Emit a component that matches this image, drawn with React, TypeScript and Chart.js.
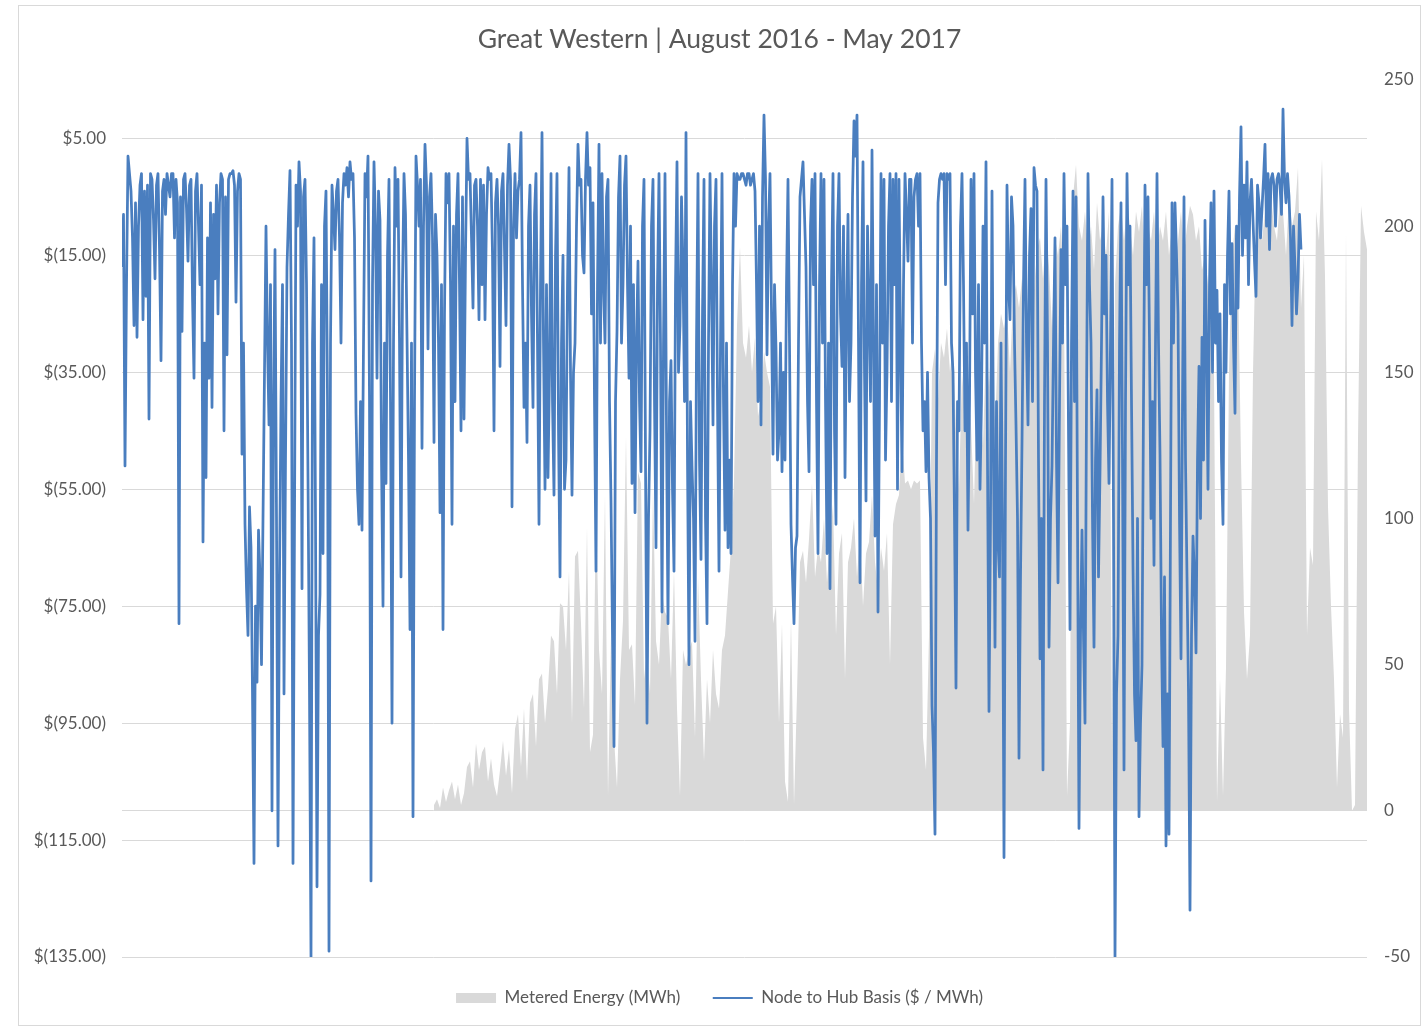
import { useEffect, useRef } from 'react';
import { Chart, registerables } from 'chart.js';

Chart.register(...registerables);

const TITLE = 'Great Western | August 2016 - May 2017';
const ENERGY_LABEL = 'Metered Energy (MWh)';
const BASIS_LABEL = 'Node to Hub Basis ($ / MWh)';

const LEFT_TICKS = [-135, -115, -95, -75, -55, -35, -15, 5];
const RIGHT_TICKS = [-50, 0, 50, 100, 150, 200, 250];
const LEFT_MIN = -135;
const LEFT_MAX = 15;
const RIGHT_MIN = -50;
const RIGHT_MAX = 250;

// hidden x axis: period position in sample units
const X_MAX = 415;
const BASIS_STEP = 0.5;
const ENERGY_START = 104;
const ENERGY_STEP = 1;

// Node to Hub Basis ($/MWh), left axis
const basis = [
  -17, -8, -51, -20, 2, -1, -4, -12, -27, -6, -29, -10, -3, -1, -26, -4, -22, -3, -43, -1,
  -2, -9, -19, -3, -1, -14, -33, -4, -2, -8, -1, -3, -5, -1, -1, -12, -2, -6, -78, -5,
  -28, -2, -1, -7, -16, -3, -2, -22, -36, -4, -1, -10, -20, -3, -64, -30, -53, -12, -36, -6,
  -41, -8, -19, -3, -25, -6, -1, -2, -45, -5, -32, -2, -1, -1, -0.5, -3, -23, -4, -1, -2,
  -49, -30, -61, -72, -80, -58, -65, -90, -119, -75, -88, -62, -70, -85, -60, -35, -10, -30, -44, -20,
  -110, -40, -14, -60, -116, -70, -40, -20, -90, -50, -17, -8, -0.5, -30, -119, -60, -3, -10, 1, -4,
  -72, -5, -2, -20, -53, -90, -135, -30, -12, -60, -123, -80, -73, -20, -66, -10, -4, -40, -134, -30,
  -3, -8, -14, -4, -2, -12, -30, -6, -1, -3, 0, -5, 1, -2, -1, -12, -42, -55, -61, -40,
  -62, -30, -1, -5, 2, -40, -122, -20, 1, -10, -36, -4, -9, -50, -75, -30, -54, -15, -2, -40,
  -95, -30, 0, -10, -2, -30, -70, -20, -1, -8, -29, -50, -79, -30, -111, -40, 2, -3, -10, -2,
  -48, -10, 4, -3, -31, -5, -1, -12, -47, -8, -15, -30, -59, -20, -79, -25, -1, -6, -1, -20,
  -61, -10, -40, -8, -1, -20, -45, -5, -43, -15, 5, -2, -1, -12, -24, -3, -2, -10, -26, -2,
  -20, -3, -26, -8, 0, -2, -1, -15, -45, -6, -2, -10, -34, -4, -1, -14, -27, -3, 4, -2,
  -58, -10, -1, -12, -4, -2, 6, -20, -41, -30, -47, -10, -3, -25, -41, -8, -1, -30, -61, -20,
  6, -30, -55, -20, -53, -35, -1, -40, -56, -15, -1, -45, -70, -30, -15, -55, -50, -20, 0, -35,
  -56, -35, -30, -10, 4, -3, -2, -15, -18, -2, 6, -3, 0, -25, -6, -40, -69, -20, 4, -30,
  -1, -20, -30, -5, -2, -40, -57, -80, -99, -40, -28, -5, 2, -30, -20, -3, 2, -20, -36, -10,
  -54, -20, -59, -30, -16, -40, -52, -10, -2, -50, -95, -60, -45, -10, -2, -40, -65, -20, -1, -30,
  -76, -30, -1, -45, -78, -40, -33, -55, -69, -20, 1, -35, -27, -5, -17, -40, 6, -50, -85, -40,
  -51, -60, -81, -30, -1, -50, -67, -25, -2, -60, -78, -30, -1, -20, -44, -10, -2, -40, -69, -30,
  -1, -40, -62, -30, -65, -50, -66, -20, -1, -10, -1, -2, -2, -1, -1, -2, -3, -1, -1, -3,
  -2, -1, -4, -20, -40, -10, -44, -5, 9, -2, -32, -10, -1, -25, -49, -20, -31, -50, -45, -30,
  -52, -35, -50, -20, -2, -30, -61, -70, -78, -65, -63, -30, -5, -2, 1, -8, -17, -40, -52, -10,
  -2, -20, -1, -40, -66, -20, -1, -30, -2, -40, -66, -30, -72, -20, -1, -45, -61, -10, -1, -25,
  -34, -10, -53, -25, -8, -40, -30, -5, 8, 2, 9, -30, -71, -20, 1, -35, -57, -10, -24, -40,
  3, -30, -63, -20, -76, -40, -1, -30, -2, -50, -35, -10, -1, -40, -2, -20, -1, -55, -2, -30,
  -52, -20, -1, -8, -16, -2, -2, -30, -5, -2, -1, -10, -1, -30, -45, -40, -52, -35, -53, -60,
  -92, -100, -114, -50, -6, -2, -1, -2, -1, -20, -1, -2, -1, -30, -35, -60, -89, -40, -45, -10,
  -1, -20, -45, -30, -62, -40, -2, -25, -1, -35, -50, -20, -55, -40, -10, -30, 1, -50, -93, -60,
  -4, -50, -82, -40, -64, -70, -30, -60, -118, -50, -3, -20, -26, -5, -10, -30, -44, -60, -101, -70,
  -47, -20, -2, -30, -44, -15, -7, -40, 0, -3, -4, -50, -84, -60, -103, -40, -2, -30, -82, -60,
  -51, -30, -12, -50, -71, -40, -14, -30, -1, -20, -10, -45, -79, -30, -4, -40, -5, -60, -113, -80,
  -62, -80, -95, -40, -1, -20, -30, -60, -82, -50, -38, -70, -52, -30, -5, -25, -15, -40, -54, -30,
  -2, -60, -135, -90, -80, -30, -6, -50, -103, -40, -1, -20, -10, -40, -68, -90, -98, -60, -111, -95,
  -85, -40, -3, -20, -5, -30, -60, -40, -68, -30, -1, -30, -49, -80, -99, -70, -116, -90, -114, -60,
  -6, -30, -6, -15, -25, -60, -84, -40, -5, -50, -70, -90, -127, -80, -63, -70, -83, -50, -34, -60,
  -29, -50, -9, -30, -55, -20, -6, -35, -4, -30, -21, -40, -25, -50, -61, -20, -35, -15, -4, -25,
  -13, -30, -42, -10, -24, -5, 7, -15, -3, -12, 1, -20, -6, -2, -9, -16, -22, -3, -6, -12,
  -7, -2, 4, -10, -1, -14, -2, -1, -3, -10, -2, -1, -3, -8, 10, -2, -6, -1, -5, -12,
  -27, -10, -17, -25, -19, -8, -14,
];

// Metered Energy (MWh), right axis, from sample ENERGY_START
const metered = [
  2, 4, 1, 8, 3, 7, 10, 4, 9, 2,
  6, 15, 17, 8, 23, 14, 20, 22, 10, 18,
  9, 5, 14, 24, 12, 21, 6, 28, 33, 15,
  35, 10, 37, 40, 22, 45, 47, 30, 42, 60,
  58, 40, 71, 70, 55, 82, 30, 87, 89, 64,
  35, 97, 20, 26, 105, 55, 40, 108, 5, 60,
  25, 8, 45, 65, 128, 55, 57, 36, 116, 112,
  45, 55, 40, 110, 58, 50, 75, 68, 66, 45,
  82, 35, 5, 55, 50, 55, 58, 25, 80, 45,
  17, 45, 30, 55, 40, 35, 55, 60, 75, 90,
  113, 166, 193, 160, 155, 166, 150, 162, 135, 140,
  157, 150, 145, 64, 70, 30, 64, 10, 3, 66,
  2, 40, 85, 89, 78, 93, 112, 80, 90, 85,
  100, 78, 92, 105, 60, 88, 95, 45, 85, 90,
  100, 80, 95, 70, 88, 92, 108, 85, 75, 90,
  82, 95, 50, 98, 105, 108, 128, 112, 113, 110,
  113, 112, 113, 25, 14, 60, 150, 158, 140, 160,
  155, 165, 150, 160, 130, 110, 150, 135, 148, 132,
  105, 150, 138, 125, 160, 145, 165, 130, 160, 170,
  165, 172, 150, 175, 180, 172, 182, 160, 175, 188,
  178, 192, 196, 182, 198, 186, 165, 196, 190, 200,
  176, 5, 30, 210, 221, 200, 195, 205, 190, 200,
  185, 208, 195, 200, 190, 205, 20, 180, 200, 207,
  195, 208, 200, 190, 205, 198, 207, 185, 200, 195,
  205, 190, 200, 195, 205, 190, 200, 185, 195, 205,
  190, 200, 207, 204, 195, 200, 185, 190, 180, 170,
  150, 3, 45, 5, 49, 150, 190, 200, 185, 120,
  68, 45, 60, 150, 200, 207, 195, 205, 200, 210,
  200, 195, 210, 205, 190, 210, 200, 205, 220, 172,
  190, 60, 90, 84, 205, 195, 223, 183, 104, 70,
  45, 8, 33, 25, 198, 35, 0, 2, 127, 207,
  198, 192,
];

const BLUE = '#4A7EBF';
const GRAY = '#D9D9D9';
const TEXT = '#595959';
const FONT = 'Lato';

const money = (v: number) =>
  v >= 0 ? `$${v.toFixed(2)}` : `$(${Math.abs(v).toFixed(2)})`;

export default function App() {
  const ref = useRef<HTMLCanvasElement | null>(null);

  useEffect(() => {
    if (!ref.current) return;
    const chart = new Chart(ref.current, {
      type: 'line',
      data: {
        datasets: [
          {
            label: ENERGY_LABEL,
            data: metered.map((y, i) => ({ x: ENERGY_START + i * ENERGY_STEP, y })),
            yAxisID: 'yR',
            fill: 'origin',
            backgroundColor: GRAY,
            borderColor: GRAY,
            borderWidth: 0,
            pointRadius: 0,
            tension: 0,
            order: 2,
          },
          {
            label: BASIS_LABEL,
            data: basis.map((y, i) => ({ x: i * BASIS_STEP, y })),
            yAxisID: 'yL',
            fill: false,
            borderColor: BLUE,
            backgroundColor: BLUE,
            borderWidth: 2.75,
            borderJoinStyle: 'round',
            pointRadius: 0,
            tension: 0,
            order: 1,
          },
        ],
      },
      options: {
        animation: false,
        responsive: false,
        devicePixelRatio: 1,
        layout: { padding: { left: 0, right: 0, top: 0, bottom: 8.5 } },
        scales: {
          x: { type: 'linear', min: 0, max: X_MAX, display: false },
          yL: {
            type: 'linear',
            position: 'left',
            min: LEFT_MIN,
            max: LEFT_MAX,
            afterBuildTicks: (s: any) => {
              s.ticks = LEFT_TICKS.map((v) => ({ value: v }));
            },
            afterFit: (s: any) => {
              s.width = 103;
            },
            border: { display: false },
            grid: { color: GRAY, lineWidth: 1, drawTicks: false },
            ticks: {
              padding: 16,
              color: TEXT,
              font: { family: FONT, size: 17 },
              callback: (v: any) => money(Number(v)),
            },
          },
          yR: {
            type: 'linear',
            position: 'right',
            min: RIGHT_MIN,
            max: RIGHT_MAX,
            afterBuildTicks: (s: any) => {
              s.ticks = RIGHT_TICKS.map((v) => ({ value: v }));
            },
            afterFit: (s: any) => {
              s.width = 53;
            },
            border: { display: false },
            grid: {
              drawTicks: false,
              lineWidth: 1,
              color: (c: any) =>
                c.tick && c.tick.value === 0 ? GRAY : 'rgba(0,0,0,0)',
            },
            ticks: {
              padding: 17,
              color: TEXT,
              font: { family: FONT, size: 17 },
              callback: (v: any) => String(v),
            },
          },
        },
        plugins: {
          tooltip: { enabled: false },
          title: {
            display: true,
            text: TITLE,
            color: TEXT,
            font: { family: FONT, size: 26.5, weight: 'normal' },
            padding: { top: 17.7, bottom: 24.5 },
          },
          legend: {
            display: true,
            position: 'bottom',
            labels: {
              usePointStyle: true,
              pointStyleWidth: 40,
              boxHeight: 10,
              padding: 32.5,
              color: TEXT,
              font: { family: FONT, size: 17 },
              generateLabels: () => [
                {
                  text: ENERGY_LABEL,
                  fillStyle: GRAY,
                  strokeStyle: GRAY,
                  lineWidth: 0,
                  pointStyle: 'rect',
                  hidden: false,
                  datasetIndex: 0,
                  fontColor: TEXT,
                } as any,
                {
                  text: BASIS_LABEL,
                  fillStyle: BLUE,
                  strokeStyle: BLUE,
                  lineWidth: 2,
                  pointStyle: 'line',
                  hidden: false,
                  datasetIndex: 1,
                  fontColor: TEXT,
                } as any,
              ],
            },
          },
        },
      } as any,
    });
    return () => chart.destroy();
  }, []);

  return (
    <div
      style={{
        position: 'absolute',
        left: 18,
        top: 5,
        width: 1403,
        height: 1021,
        boxSizing: 'border-box',
        border: '1px solid #D9D9D9',
        background: '#FFFFFF',
      }}
    >
      <canvas
        ref={ref}
        width={1401}
        height={1019}
        style={{ display: 'block', width: 1401, height: 1019 }}
      />
    </div>
  );
}
